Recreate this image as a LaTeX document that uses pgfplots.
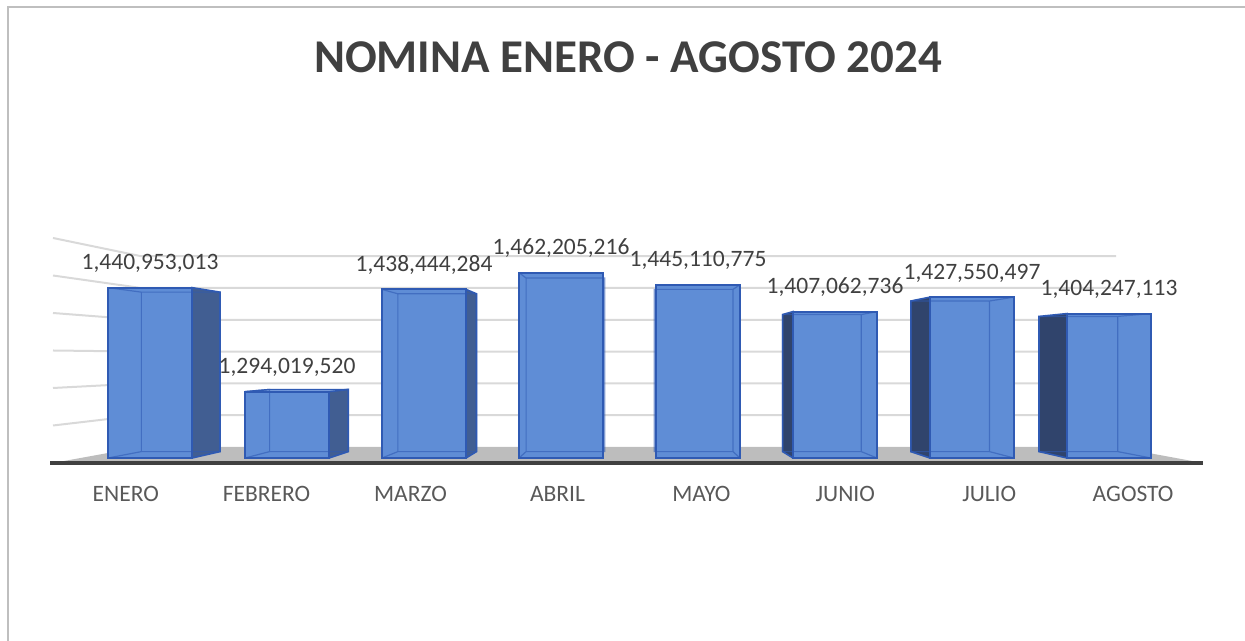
\documentclass[border=0pt]{standalone}
\usepackage{pgfplots}
\pgfplotsset{compat=1.18}
\usepackage{pgfplotstable}
\usepackage{fontspec}
\setmainfont{Carlito}

\definecolor{barface}{HTML}{5F8DD6}
\definecolor{baredge}{HTML}{2F5AB3}
\definecolor{sideL}{HTML}{415E92}
\definecolor{sideR}{HTML}{30446C}
\definecolor{topface}{HTML}{7FA3E0}
\definecolor{floorgrey}{HTML}{BDBDBD}
\definecolor{gridgrey}{HTML}{D9D9D9}
\definecolor{framegrey}{HTML}{BFBFBF}
\definecolor{txtdark}{HTML}{404040}
\definecolor{txtcat}{HTML}{595959}

% nomina mensual (pesos)
\pgfplotstableread{
i v lab
0 1440953013 1,440,953,013
1 1294019520 1,294,019,520
2 1438444284 1,438,444,284
3 1462205216 1,462,205,216
4 1445110775 1,445,110,775
5 1407062736 1,407,062,736
6 1427550497 1,427,550,497
7 1404247113 1,404,247,113
}\nomina

\begin{document}
\begin{tikzpicture}
% back walls, floor, frame (pixel grid of the 1245x641 picture)
\begin{scope}[shift={(0,320.5pt)}, x=0.5pt, y=-0.5pt]
  \draw[framegrey, line width=1pt] (8,641) -- (8,7) -- (1245,7);
  \fill[floorgrey] (53,463) -- (1203,463) -- (1116,447) -- (141,447) -- cycle;
  \foreach \f/\b in {425.5/415.2, 388/383.4, 350.5/351.6, 313/319.8, 275.5/288.0, 238/256.2}
    \draw[gridgrey, line width=1pt] (53,\f) -- (141,\b) -- (1116,\b);
  \draw[txtdark, line width=1.6pt] (50,463) -- (1203,463);
\end{scope}

\begin{axis}[
  at={(0,0)}, anchor=south west,
  scale only axis, width=622.5pt, height=320.5pt,
  xmin=-1.09489, xmax=7.99270, ymin=-258.835, ymax=647.795,
  axis line style={draw=none}, major tick length=0pt,
  ytick=\empty,
  xtick={-0.1766,0.8505,1.9009,2.9744,4.0248,5.0752,6.1256,7.1760},
  xticklabels={ENERO,FEBRERO,MARZO,ABRIL,MAYO,JUNIO,JULIO,AGOSTO},
  xticklabel style={anchor=base, yshift=69.5pt, inner sep=0pt,
    font=\fontsize{11.75}{14}\selectfont, text=txtcat},
  clip=false,
]
% side faces
\addplot[fill=sideL, draw=baredge, line width=0.8pt] coordinates {(0.3066,0)(0.5112,9.05)(0.5112,234.58)(0.3066,240.95)(0.3066,0)};
\addplot[fill=sideL, draw=baredge, line width=0.8pt] coordinates {(1.3066,0)(1.4472,9.05)(1.4472,97.05)(1.3066,94.02)(1.3066,0)};
\addplot[fill=sideL, draw=baredge, line width=0.8pt] coordinates {(2.3066,0)(2.3832,9.05)(2.3832,232.23)(2.3066,238.44)(2.3066,0)};
\addplot[fill=sideR, draw=baredge, line width=0.8pt] coordinates {(4.6934,0)(4.6172,9.05)(4.6172,202.86)(4.6934,207.06)(4.6934,0)};
\addplot[fill=sideR, draw=baredge, line width=0.8pt] coordinates {(5.6934,0)(5.5532,9.05)(5.5532,222.04)(5.6934,227.55)(5.6934,0)};
\addplot[fill=sideR, draw=baredge, line width=0.8pt] coordinates {(6.6934,0)(6.4892,9.05)(6.4892,200.23)(6.6934,204.25)(6.6934,0)};
% top face of FEBRERO (seen from above)
\addplot[fill=topface, draw=baredge, line width=0.6pt] coordinates {(0.6934,94.02)(1.3066,94.02)(1.4472,97.05)(0.8732,97.05)(0.6934,94.02)};
% front faces
\addplot[ybar, bar width=0.6132, fill=barface, draw=baredge, line width=1pt,
  nodes near coords, point meta=explicit symbolic,
  nodes near coords style={anchor=base, yshift=9pt, inner sep=0pt,
    font=\fontsize{11.75}{14}\selectfont, text=txtdark}]
  table[x=i, y expr=\thisrow{v}/1000000-1200, meta=lab]{\nomina};
% hidden edges seen through the bars
\addplot[draw=baredge, line width=0.6pt, opacity=0.6, unbounded coords=jump] coordinates {
(-0.3066,0)(-0.0628,9.05)(-0.0628,234.58)(-0.3066,240.95)(0,nan)(-0.0628,9.05)(0.5112,9.05)(0.5112,234.58)(-0.0628,234.58)(0,nan)
(0.6934,0)(0.8732,9.05)(0.8732,97.05)(0.6934,94.02)(0,nan)(0.8732,9.05)(1.4472,9.05)(0,nan)
(1.6934,0)(1.8092,9.05)(1.8092,232.23)(1.6934,238.44)(0,nan)(1.8092,9.05)(2.3832,9.05)(2.3832,232.23)(1.8092,232.23)(0,nan)
(2.6934,0)(2.7452,9.05)(2.7452,254.48)(2.6934,262.21)(0,nan)(2.7452,9.05)(3.3192,9.05)(3.3192,254.48)(2.7452,254.48)(0,nan)
(4.3066,0)(4.2552,9.05)(4.2552,238.47)(4.3066,245.11)(0,nan)(4.2552,9.05)(3.6812,9.05)(3.6812,238.47)(4.2552,238.47)(0,nan)
(5.3066,0)(5.1912,9.05)(5.1912,202.86)(5.3066,207.06)(0,nan)(5.1912,9.05)(4.6172,9.05)(4.6172,202.86)(5.1912,202.86)(0,nan)
(6.3066,0)(6.1272,9.05)(6.1272,222.04)(6.3066,227.55)(0,nan)(6.1272,9.05)(5.5532,9.05)(5.5532,222.04)(6.1272,222.04)(0,nan)
(7.3066,0)(7.0632,9.05)(7.0632,200.23)(7.3066,204.25)(0,nan)(7.0632,9.05)(6.4892,9.05)(6.4892,200.23)(7.0632,200.23)
};
\end{axis}

\begin{scope}[shift={(0,320.5pt)}, x=0.5pt, y=-0.5pt]
  \node[anchor=base, inner sep=0pt, text=txtdark,
    font=\fontsize{23.5}{28}\selectfont\bfseries] at (628,73) {NOMINA ENERO - AGOSTO 2024};
\end{scope}
\pgfresetboundingbox
\useasboundingbox (0,0) rectangle (622.5pt,320.5pt);
\end{tikzpicture}
\end{document}
